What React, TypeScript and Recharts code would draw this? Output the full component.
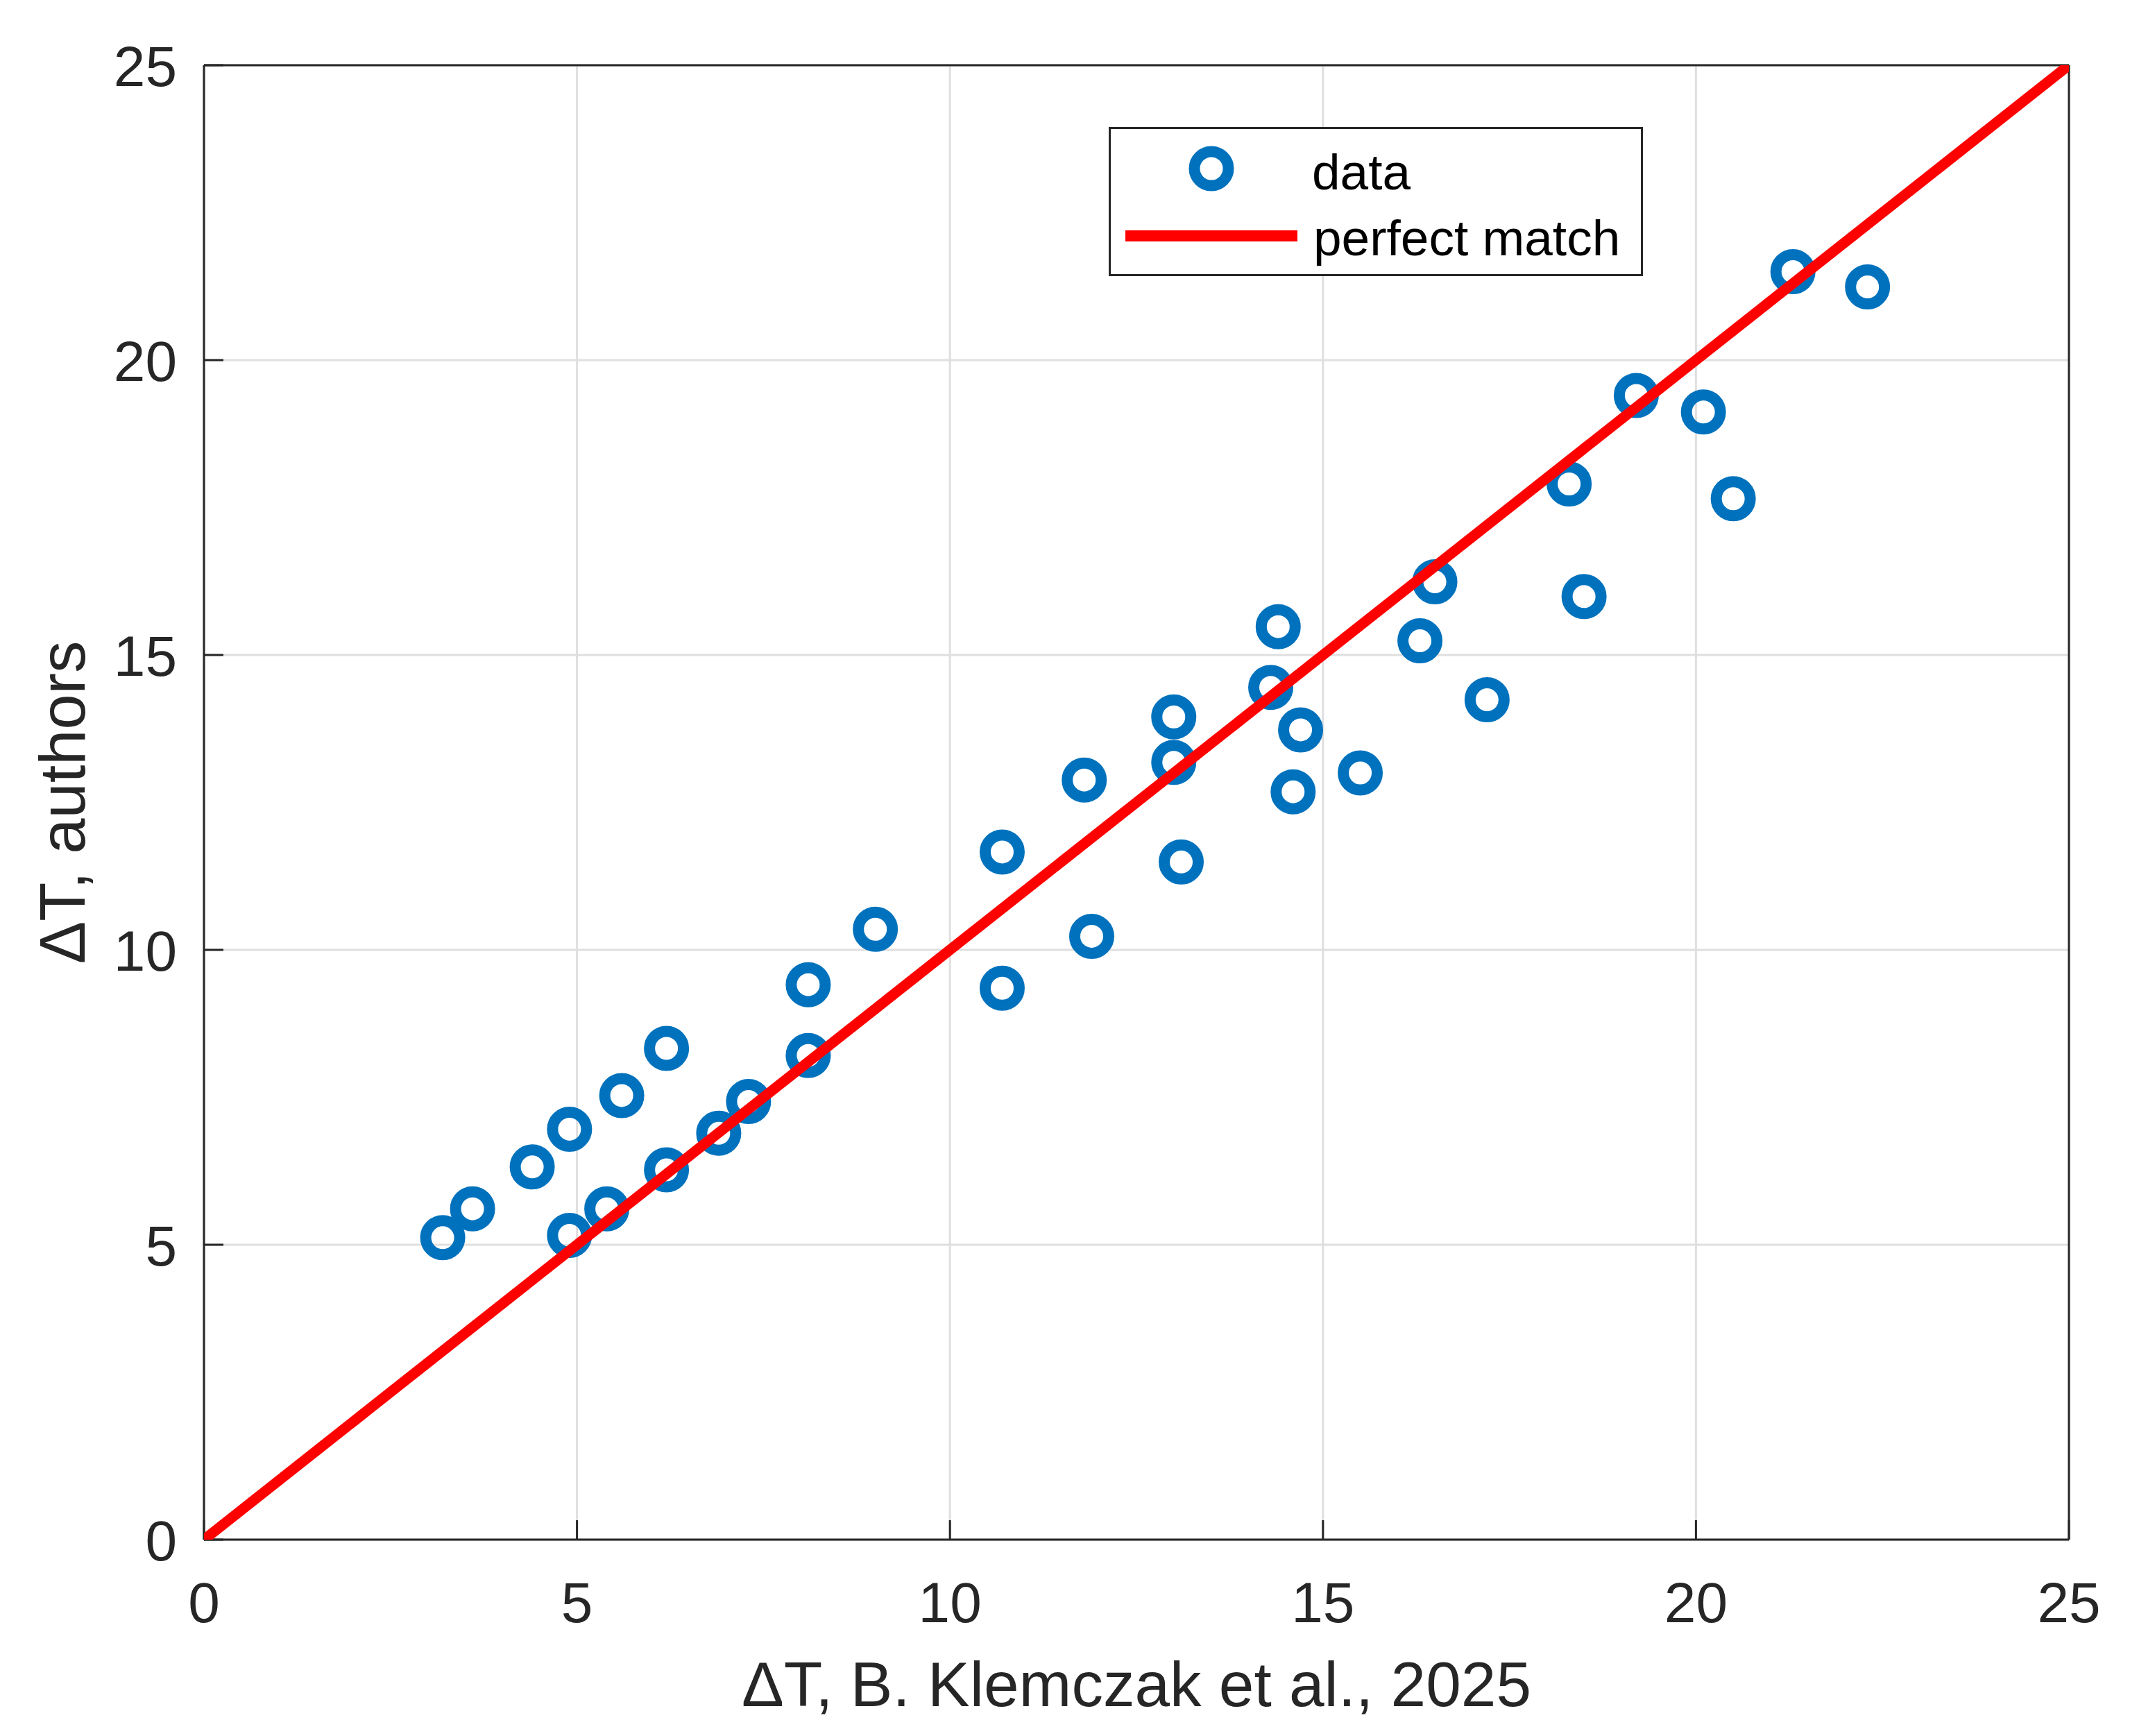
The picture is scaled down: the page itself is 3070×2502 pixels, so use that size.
import React from "react";
import {
  ScatterChart,
  Scatter,
  XAxis,
  YAxis,
  CartesianGrid,
  Legend,
  Label,
} from "recharts";

// ΔT values (x: Klemczak et al. 2025, y: authors)
const klemczakDT = [
  3.2, 3.6, 4.4, 4.9, 4.9, 5.4, 5.6, 6.2, 6.2, 6.9, 7.3, 8.1, 8.1, 9.0,
  10.7, 10.7, 11.9, 11.8, 13.0, 13.0, 13.1, 14.4, 14.3, 14.7, 14.6, 15.5,
  16.3, 16.5, 17.2, 18.5, 18.3, 19.2, 20.1, 20.5, 21.3, 22.3,
];
const authorsDT = [
  5.12, 5.61, 6.32, 6.96, 5.16, 5.61, 7.53, 8.33, 6.27, 6.89, 7.43, 8.21, 9.41, 10.35,
  9.35, 11.66, 10.23, 12.88, 13.95, 13.18, 11.49, 15.48, 14.45, 13.73, 12.68, 13.0,
  15.24, 16.24, 14.24, 15.99, 17.9, 19.4, 19.12, 17.65, 21.5, 21.24,
];
const matchX = [0, 25];
const matchY = [0, 25];
const axisTicks = [0, 5, 10, 15, 20, 25];
const seriesNames = ["data", "perfect match"];

const FONT = '"Liberation Sans", Arial, Helvetica, sans-serif';
const BLUE = "#0072BD";
const RED = "#FF0000";
const AXIS = "#262626";

const points = klemczakDT.map((x, i) => ({ x, y: authorsDT[i] }));
const matchLine = matchX.map((x, i) => ({ x, y: matchY[i] }));

function Ring(props: any) {
  const { cx, cy } = props;
  if (cx == null || cy == null) return <g />;
  return <circle cx={cx} cy={cy} r={24.5} fill="none" stroke={BLUE} strokeWidth={16} />;
}

function XTick(props: any) {
  const { x, y, payload } = props;
  return (
    <text x={x} y={y} textAnchor="middle" fontSize={82} fontFamily={FONT} fill={AXIS}>
      {payload.value}
    </text>
  );
}

function YTick(props: any) {
  const { x, y, payload } = props;
  return (
    <text x={x} y={y + 30} textAnchor="end" fontSize={82} fontFamily={FONT} fill={AXIS}>
      {payload.value}
    </text>
  );
}

function XTitle(props: any) {
  const { x, y, width } = props.viewBox;
  return (
    <text x={x + width / 2} y={y + 240} textAnchor="middle" fontSize={91} fontFamily={FONT} fill={AXIS}>
      ΔT, B. Klemczak et al., 2025
    </text>
  );
}

function YTitle(props: any) {
  const { x, y, height } = props.viewBox;
  const cx = x + 122;
  const cy = y + height / 2;
  return (
    <text
      x={cx}
      y={cy}
      textAnchor="middle"
      fontSize={92}
      fontFamily={FONT}
      fill={AXIS}
      transform={`rotate(-90, ${cx}, ${cy})`}
    >
      ΔT, authors
    </text>
  );
}

function LegendBox() {
  return (
    <div style={{ width: 770, height: 215, boxSizing: "border-box", border: `3px solid ${AXIS}`, background: "#fff" }}>
      <svg width={764} height={209} style={{ display: "block" }}>
        <circle cx={145} cy={57} r={24.5} fill="none" stroke={BLUE} strokeWidth={16} />
        <text x={290} y={87} fontSize={73} fontFamily={FONT} fill="#000">
          {seriesNames[0]}
        </text>
        <line x1={21} x2={269} y1={154} y2={154} stroke={RED} strokeWidth={16} />
        <text x={292} y={182} fontSize={73} fontFamily={FONT} fill="#000">
          {seriesNames[1]}
        </text>
      </svg>
    </div>
  );
}

export default function App() {
  return (
    <div style={{ position: "absolute", left: 0, top: 0, width: 3070, height: 2502, background: "#fff" }}>
      <ScatterChart width={3070} height={2502} margin={{ top: 0, right: 0, bottom: 0, left: 0 }}>
        <CartesianGrid stroke="#dfdfdf" strokeWidth={3} />
        <XAxis
          type="number"
          dataKey="x"
          domain={[0, 25]}
          ticks={axisTicks}
          allowDataOverflow
          height={283}
          axisLine={{ stroke: AXIS, strokeWidth: 3 }}
          tickLine={{ stroke: AXIS, strokeWidth: 3 }}
          tickSize={-28}
          tickMargin={147}
          tick={XTick}
        >
          <Label content={XTitle} />
        </XAxis>
        <XAxis
          xAxisId="top"
          orientation="top"
          type="number"
          domain={[0, 25]}
          ticks={axisTicks}
          allowDataOverflow
          height={94}
          axisLine={{ stroke: AXIS, strokeWidth: 3 }}
          tickLine={{ stroke: AXIS, strokeWidth: 3 }}
          tickSize={-28}
          tick={false}
        />
        <YAxis
          type="number"
          dataKey="y"
          domain={[0, 25]}
          ticks={axisTicks}
          allowDataOverflow
          width={294}
          axisLine={{ stroke: AXIS, strokeWidth: 3 }}
          tickLine={{ stroke: AXIS, strokeWidth: 3 }}
          tickSize={-28}
          tickMargin={67}
          tick={YTick}
        >
          <Label content={YTitle} />
        </YAxis>
        <YAxis
          yAxisId="right"
          orientation="right"
          type="number"
          domain={[0, 25]}
          ticks={axisTicks}
          allowDataOverflow
          width={88}
          axisLine={{ stroke: AXIS, strokeWidth: 3 }}
          tickLine={{ stroke: AXIS, strokeWidth: 3 }}
          tickSize={-28}
          tick={false}
        />
        <Scatter name={seriesNames[0]} data={points} shape={Ring} isAnimationActive={false} />
        <Scatter
          name={seriesNames[1]}
          data={matchLine}
          line={{ stroke: RED, strokeWidth: 15 }}
          shape={() => <g />}
          isAnimationActive={false}
        />
        <Legend
          layout="horizontal"
          verticalAlign="middle"
          align="center"
          content={LegendBox}
          wrapperStyle={{ left: 1598, top: 183, width: 770, height: 215 }}
        />
      </ScatterChart>
    </div>
  );
}
